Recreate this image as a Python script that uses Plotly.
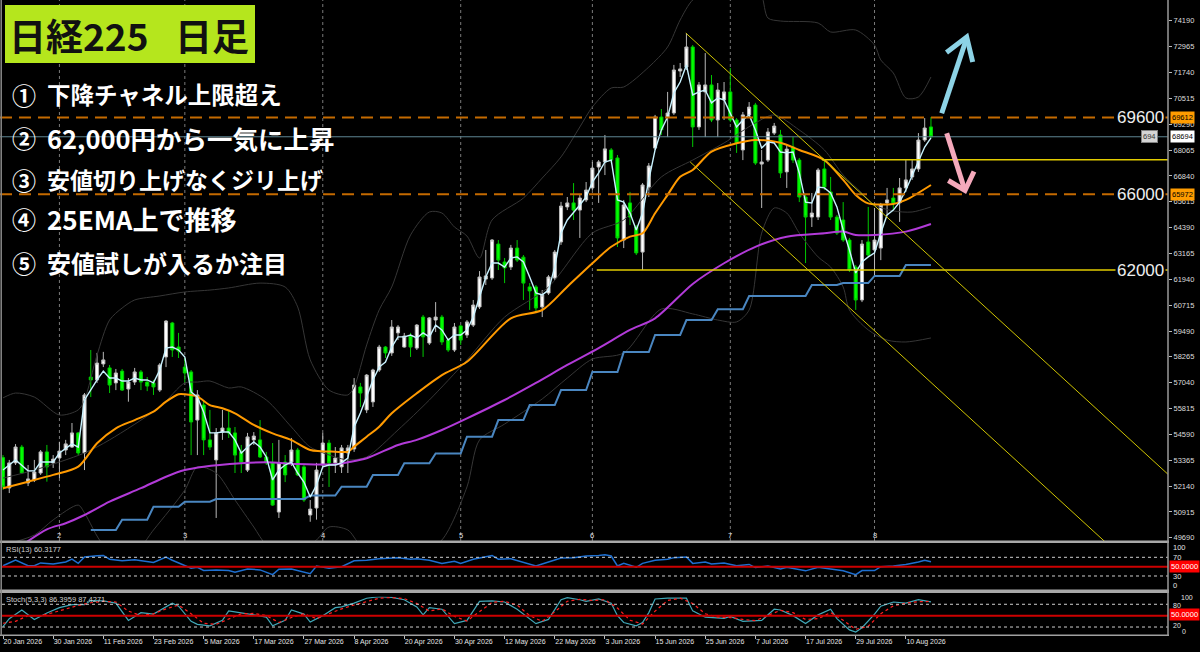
import plotly.graph_objects as go

# ---------------- data ----------------
opens = [53490,52050,53240,53990,52290,52430,52760,53760,53240,53470,
         53850,53990,54660,53710,57310,57170,57930,57740,57030,57590,
         56740,57070,57550,57070,57030,56690,58260,59870,58730,57780,
         57550,55270,55980,54330,53380,54700,54890,54660,53760,52900,
         54330,54330,53520,53240,50910,53280,53280,53850,53050,50770,
         51100,53140,54180,53240,53050,53710,53900,56840,55750,56130,
         57640,58730,58450,59400,58730,59250,58680,60150,58920,60010,
         60150,59060,58590,59730,59300,59770,60630,61950,62000,63610,
         62760,62520,63420,62990,61580,61580,60630,61290,62000,63710,
         65370,65560,65220,65700,66270,67260,67500,68070,67690,63800,
         65560,64420,63230,66310,68160,69630,69630,69820,71810,72000,
         72950,69160,70820,71150,69490,70440,70820,69490,68070,69730,
         70200,67400,67590,68870,68780,67030,68210,67590,65840,64890,
         64890,67170,66080,64890,64750,63800,62520,60960,63710,63330,
         63420,65560,65790,65560,66270,66790,67170,68540,69160]
highs = [53610,53380,54130,54090,53140,53380,53850,54090,53610,54240,
         54330,55130,54700,56550,58590,58450,58500,57880,57690,57690,
         57260,57740,57640,57310,57170,57970,60010,59920,59400,58210,
         57640,56690,56220,55750,54890,55750,55750,54940,54090,54660,
         54700,55270,53760,54180,54330,53610,54420,53950,53140,51480,
         53240,54660,54330,53990,54090,54090,57260,57030,57450,57700,
         58830,58780,60010,59770,59400,59400,59820,60250,60150,60860,
         60250,59160,59870,59770,60010,60960,62330,63330,63850,63800,
         62950,63570,63800,63090,61760,61670,61430,62140,63330,65610,
         65840,66500,65940,66550,67500,67590,68780,68160,67830,65700,
         66080,64510,66500,67450,69730,70010,70820,72100,72190,73610,
         73040,71290,72660,71620,71240,71290,71950,69580,69870,70340,
         70300,68070,69110,69350,69020,68300,68680,67690,65940,66030,
         67210,67590,66790,64990,65600,63900,62620,63800,65370,65320,
         65560,66270,66270,66740,67590,67590,68870,69580,69630]
lows = [51960,51810,53140,52710,52140,52330,52670,52350,53000,52520,
        53610,53950,53610,52900,56360,57030,57780,56550,56690,56650,
        56140,56930,56690,56640,56460,56600,57780,58260,58210,57030,
        53610,53610,53610,53850,50630,54330,54420,52760,52760,52810,
        54090,53470,53140,51200,50630,52330,53090,52620,51390,50450,
        50550,53050,52100,52760,52760,52760,53760,55890,55600,55890,
        57550,58210,58310,59060,58700,58260,58590,58260,58830,59440,
        58830,58500,58500,58830,59160,59680,60530,61670,61910,62380,
        61760,62380,62760,60960,60490,60340,60150,61200,61910,63570,
        65220,64750,63900,65600,66170,65560,66880,67450,63470,63420,
        64510,63090,62380,65840,68070,68780,68680,69730,71530,71860,
        68210,69020,68680,69390,68680,69490,69390,67930,67590,69580,
        67360,65320,67500,68780,66740,66270,67450,65600,62710,64420,
        64750,66170,64750,64040,63710,62290,60490,60860,63040,62140,
        62850,64990,65220,64660,66080,66650,67030,68450,68640]
closes = [52110,53240,53990,52760,52480,52810,53760,53050,53420,53800,
          54140,54660,53710,56460,57170,57970,58120,56930,57500,56690,
          57070,57550,57070,56880,56840,57880,59960,58590,58540,57500,
          55180,56460,54330,53990,54660,54890,54660,53610,53280,54470,
          54510,53520,53240,51240,53240,52670,53850,52670,51480,51050,
          52900,54180,53240,53470,53950,53950,56930,56550,57400,57640,
          58730,58450,59680,59680,59250,58730,59770,59210,60110,60150,
          58970,58590,59680,59060,59920,60720,62050,62100,63800,62850,
          62480,63420,62850,61760,61390,60580,61200,62050,63230,65410,
          65560,65220,65790,66170,67210,67500,68120,67590,63900,65460,
          64890,63190,66410,67310,69630,69020,69820,71860,71910,72950,
          69160,71150,71150,69490,70910,70820,69490,68400,69730,70100,
          67450,67500,68920,69200,66980,68110,67590,65840,64890,65080,
          67120,66310,64890,64130,63800,62380,60960,63610,63090,63800,
          65460,65700,65560,66270,66650,67170,68540,69110,68694]

# short moving average (light cyan)
ma_fast_x = [0,2,4,5,6,8,9,11,12,13] + list(range(15, 149))
ma_fast_y = [52900,53380,52860,52860,53280,53280,53710,54140,53990,56220,
             57170,57590,57260,57260,57120,57120,57260,57170,57170,57030,
             57640,58680,58730,58590,58260,56600,56360,55650,54660,54660,
             54700,54700,54330,53710,53990,54230,53990,53520,52430,52900,
             53140,53280,52760,52330,51620,52190,53050,53140,53140,53240,
             53470,54940,55600,56360,57170,57780,58020,58730,59210,59210,
             59300,59160,59400,59210,59770,59540,59060,59300,59300,59540,
             60150,61100,62050,62710,62710,62520,62950,63000,62760,62050,
             61290,61200,61430,62520,64130,64750,65080,65460,65840,66550,
             66980,67500,67590,65700,65600,65080,64280,65080,66650,68070,
             69020,69630,70770,71290,72100,70680,70820,70910,70300,70530,
             70440,69820,69160,69490,69730,69020,68160,68450,68400,67970,
             67930,67970,66980,65600,65560,66310,66270,66030,65370,64280,
             63330,62240,62760,63000,63190,64130,64990,65220,65600,66170,
             66880,67590,68210,68640]

# 25 EMA (orange)
ema25_x = [0,4,8,12,15,18,21,24,26,28,29,31,33,35,37,40,43,46,49,53,
           55,56,58,60,62,66,70,74,81,86,90,94,97,100,102,104,106,108,110,113,
           117,120,124,127,131,134,136,138,142,144,148]
ema25_y = [52040,52350,52670,53060,54170,54880,55270,55670,56140,56490,
           56490,56380,55980,55830,55590,55040,54640,54320,53850,53770,
           53770,54010,54480,54955,55590,56540,57400,58030,60090,60485,
           61590,62700,63480,63960,64120,65070,65940,66800,67120,67990,
           68385,68540,68410,68070,67590,66650,65940,65540,65510,65700,66410]

# long moving average (purple)
ma_long_x = [0,7,10,13,17,22,26,29,32,38,42,47,53,55,58,63,66,70,74,80,
             85,90,95,100,104,110,115,120,125,131,134,136,139,144,148]
ma_long_y = [48700,50090,50380,50770,51400,52040,52585,52900,53060,53220,
             53270,53190,53170,53270,53460,54090,54330,54800,55350,56220,
             57030,57880,58680,59540,60090,61720,62700,63480,63960,64120,
             64200,64040,64040,64200,64560]

# weekly step line (steel blue): first bar, last bar, value
step_start = [14,19,24,29,34,49,54,59,64,69,74,79,84,89,94,99,104,109,114,119,129,134,139,144]
step_end   = [18,23,28,33,48,53,58,63,68,73,78,83,88,93,98,103,108,113,118,128,133,138,143,148]
step_val   = [50060,50550,51160,51400,51530,51690,52110,52670,53220,53690,54480,55270,
              55980,56690,57550,58490,59300,60010,60520,61150,61670,61760,62100,62620]

# Bollinger bands (dark grey)
bb_up_x = [0,2,5,9,12,13,15,17,19,21,25,29,33,36,41,45,47,49,52,55,
           56,58,60,62,65,68,70,72,74,76,78,83,86,89,92,94,97,99,103,106,
           108,110,113,116,119,121,122,124,130,132,136,139,140,142,144,146,148]
bb_up_y = [56320,56550,56360,55510,55750,56220,58350,60010,60580,60960,
           61150,61340,61430,61530,61760,61575,60630,58120,56690,56460,
           56840,58830,60490,61575,64040,65130,65080,64420,63990,62950,
           64750,65790,66740,67740,69160,70105,71005,71053,72000,72950,
           74230,75176,75650,76300,76300,75400,74323,74180,74086,73660,
           73754,73043,72332,71716,70532,70580,71527]
bb_mid_x = [0,5,13,17,25,29,31,33,36,38,42,46,49,53,55,58,63,68,74,80,
            87,94,99,105,110,115,120,123,127,131,134,137,139,142,145,148]
bb_mid_y = [52520,52900,53710,54330,55890,57030,57070,57120,56790,56840,
            56220,54940,53990,53520,53380,53520,54800,56220,58120,60150,
            61575,64130,64750,66790,67590,68400,69350,69730,69015,68070,
            66880,66030,65460,65180,65130,65370]
bb_lo_x = [0,5,8,12,13,16,20,24,29,31,34,37,40,42,46,50,52,55,57,62,
           66,70,74,76,80,86,90,94,99,105,110,114,117,119,121,123,125,127,130,132,
           134,135,138,141,144,148]
bb_lo_y = [49350,49820,50540,51240,50870,49350,48640,50060,51955,53045,
           52760,51480,50200,49350,48640,49585,50200,50060,49350,48640,
           48870,49585,52100,54325,55080,56270,57260,58160,58450,60530,
           60300,60010,59920,60485,64130,65320,65080,64130,63000,62520,
           61575,60485,59540,59060,58970,59160]

# RSI(13)
rsi_x = [0,2,4,5,6,8,10,11,12,13,15,16,17,19,21,24,26,27,30,31,
         32,34,36,37,39,41,43,44,46,49,50,52,54,56,58,60,63,65,66,68,
         70,72,73,75,78,79,81,83,85,87,89,91,93,95,96,97,98,99,101,102,
         104,106,107,109,110,112,113,115,117,119,120,122,124,125,127,128,130,132,134,136,
         137,139,140,142,144,146,147,148]
rsi_y = [52,64,52,52,58,55.5,60,66,57,70.7,73.5,74,66,62.4,65,59,70.7,63.8,46.5,48.6,
         41.7,43,41.7,38,45,43,32.8,44.5,45,35,51.4,46.5,50,62.4,63.8,67,69,66,67,63.8,
         57,61.7,57,66,74,66,67,60,51.4,60,68.6,69.3,72.8,74,75.5,72.8,51.4,57,48.6,57,
         63.8,66,69.3,70.7,57,60,55.5,57.6,52,54.8,48,51.4,45,48.6,43.8,41,48.6,44.5,41,32.8,
         41.7,41.7,50,51.4,54.8,60,63.8,60.3]

# Stochastic(5,3,3)
stk_x = [0,1,3,5,7,9,11,13,14,16,18,20,22,24,27,28,30,31,33,35,
         36,38,40,42,43,45,46,48,49,51,53,54,56,58,60,62,64,66,67,68,
         70,72,74,76,78,80,82,85,87,89,90,92,93,95,97,98,99,101,102,103,
         104,106,109,110,112,115,116,118,120,121,123,124,126,128,130,132,133,135,136,137,
         139,140,142,144,146,147,148]
stk_y = [21,42,65,40,57,71,79,79,90,89,83,37.5,58,54,83,75,35,27,23,37.5,
         62.5,58,52,46,23,37.5,65,54,33,50,71,73,83,96,100,98,92,73,52,71,
         67,29,37.5,87.5,89,86,67,29,40,92,97.5,92,87.5,94,83,50,32,23,32,58,
         94,96,96,62.5,46,43,48,35,37.5,37.5,67,65,50,29,52,67,42,12.5,6.7,18,
         54,75,86,83,92,90,86.4]
std_x = list(range(0, 149, 2))
std_y = [30,35,50,50,58,68,77,84,88,86,62,50,55,68,78,55,30,27,42,55,
         56,50,32,45,55,42,55,68,78,88,96,98,95,82,62,68,48,36,60,85,
         88,78,50,35,60,88,93,90,92,70,38,28,62,90,96,82,55,46,45,40,
         37,50,64,58,40,42,58,38,14,22,55,76,83,87,87.4]

# axis ticks / labels
price_ticks = [49690,50915,52140,53365,54590,55815,57040,58265,59490,60715,
               61940,63165,64390,65615,66840,68065,69290,70515,71740,72965,74190]
date_tick_bars = [0,8,16,24,32,40,48,56,64,72,80,88,96,104,112,120,128,136,144]
date_tick_labels = ["20 Jan 2026","30 Jan 2026","11 Feb 2026","23 Feb 2026","5 Mar 2026",
                    "17 Mar 2026","27 Mar 2026","8 Apr 2026","20 Apr 2026","30 Apr 2026",
                    "12 May 2026","22 May 2026","3 Jun 2026","15 Jun 2026","25 Jun 2026",
                    "7 Jul 2026","17 Jul 2026","29 Jul 2026","10 Aug 2026"]
month_bars = [9,29,51,73,94,116,139]
month_labels = ["2","3","4","5","6","7","8"]

# drawn objects
dash_levels = [69612, 65972]
dash_level_tags = ["69612", "65972"]
level_texts = ["69600", "66000", "62000"]
level_text_prices = [69612, 65972, 62380]
last_price = 68694
yellow_levels = [67600, 62380]
yellow_starts = [130.6, 94.7]
chan_upper_x = [108.9, 185.8]
chan_upper_y = [73610, 52700]
chan_lower_x = [109.6, 185.8]
chan_lower_y = [67500, 46770]

title_parts = ["日経225", "日足"]
note_marks = ["①", "②", "③", "④", "⑤"]
note_texts = ["下降チャネル上限超え", "62,000円から一気に上昇", "安値切り上げなくジリ上げ",
              "25EMA上で推移", "安値試しが入るか注目"]

# ---------------- layout geometry ----------------
W, H = 1200, 652
PLOT_R = 1168.0
X0_PX, BAR_PX = 3.0, 6.27
MAIN_BOT = 541.0
RSI_TOP, RSI_BOT = 543.3, 590.0
STO_TOP, STO_BOT = 596.7, 634.6
Y_RANGE = [49538, 75176]
X_RANGE = [(0 - X0_PX) / BAR_PX, (PLOT_R - X0_PX) / BAR_PX]


def xp(px):
    return px / W


def yp(py):
    return 1 - py / H


LBL = "Liberation Sans"
JP = "Noto Sans CJK JP"

fig = go.Figure()

n = len(opens)
fig.add_trace(go.Candlestick(
    x=list(range(n)), open=opens, high=highs, low=lows, close=closes,
    increasing=dict(line=dict(color="#b8b8b8", width=1), fillcolor="#ffffff"),
    decreasing=dict(line=dict(color="#00c800", width=1), fillcolor="#00ff00"),
    whiskerwidth=0, xaxis="x", yaxis="y", hoverinfo="skip", showlegend=False))


def line(x, y, color, width, shape="linear", xa="x", ya="y", dash="solid"):
    fig.add_trace(go.Scatter(x=x, y=y, mode="lines", xaxis=xa, yaxis=ya,
                             line=dict(color=color, width=width, shape=shape, dash=dash,
                                       smoothing=0.8 if shape == "spline" else None),
                             hoverinfo="skip", showlegend=False))


line(bb_up_x, bb_up_y, "#363636", 1, "spline")
line(bb_mid_x, bb_mid_y, "#363636", 1, "spline")
line(bb_lo_x, bb_lo_y, "#363636", 1, "spline")

sx, sy = [], []
for s, e, v in zip(step_start, step_end, step_val):
    sx += [s, e]
    sy += [v, v]
line(sx, sy, "#4a86c0", 2)
line(ma_long_x, ma_long_y, "#b23ad8", 2, "spline")
line(ema25_x, ema25_y, "#ff9a00", 2, "spline")
line(ma_fast_x, ma_fast_y, "#c8f2ff", 1.4)

line(rsi_x, rsi_y, "#1e6fd0", 1.5, xa="x2", ya="y2")
line(stk_x, stk_y, "#40a8b8", 1.2, xa="x3", ya="y3")
line(std_x, std_y, "#ff2020", 1.2, xa="x3", ya="y3", dash="dot")

shapes = []
for b in month_bars:
    shapes.append(dict(type="line", xref="x", yref="paper", x0=b, x1=b, y0=yp(MAIN_BOT), y1=1,
                       line=dict(color="#7a7a7a", width=1, dash="dot"), layer="below"))
for p in dash_levels:
    shapes.append(dict(type="line", xref="paper", yref="y", x0=0, x1=xp(PLOT_R), y0=p, y1=p,
                       line=dict(color="#c46a00", width=2, dash="12px,7px")))
shapes.append(dict(type="line", xref="paper", yref="y", x0=0, x1=xp(PLOT_R), y0=last_price, y1=last_price,
                   line=dict(color="#5e8694", width=1)))
for p, s in zip(yellow_levels, yellow_starts):
    shapes.append(dict(type="line", xref="x", yref="y", x0=s, x1=X_RANGE[1], y0=p, y1=p,
                       line=dict(color="#e2cc00", width=1.5)))
for cx, cy in ((chan_upper_x, chan_upper_y), (chan_lower_x, chan_lower_y)):
    shapes.append(dict(type="line", xref="x", yref="y", x0=cx[0], x1=cx[1], y0=cy[0], y1=cy[1],
                       line=dict(color="#cfc400", width=1)))
for ya, lv in (("y2", (70, 30)), ("y3", (80, 20))):
    for v in lv:
        shapes.append(dict(type="line", xref="paper", yref=ya, x0=xp(2), x1=xp(PLOT_R), y0=v, y1=v,
                           line=dict(color="#cfcfcf", width=1, dash="3px,3px")))
    shapes.append(dict(type="line", xref="paper", yref=ya, x0=xp(2), x1=xp(PLOT_R), y0=50, y1=50,
                       line=dict(color="#cc0000", width=2)))


def prect(x0, y0, x1, y1, color):
    shapes.append(dict(type="rect", xref="paper", yref="paper", x0=xp(x0), x1=xp(x1),
                       y0=yp(y1), y1=yp(y0), fillcolor=color, line=dict(width=0), layer="above"))


def pline(x0, y0, x1, y1, color, width):
    shapes.append(dict(type="line", xref="paper", yref="paper", x0=xp(x0), x1=xp(x1),
                       y0=yp(y0), y1=yp(y1), line=dict(color=color, width=width)))


prect(0, 540.5, PLOT_R + 1, 543.0, "#a8a8a8")
prect(0, 589.6, PLOT_R + 1, 593.0, "#a8a8a8")
pline(0, 635.3, PLOT_R + 1, 635.3, "#a0a0a0", 1.5)
pline(PLOT_R, 0, PLOT_R, 635.3, "#9a9a9a", 1.5)
pline(1.2, 0, 1.2, 635.3, "#8a8a8a", 1.5)
prect(5, 5, 255, 63, "#b5e61d")


def arrow(pts_shaft, pts_head, color):
    def path(pts):
        return "M " + " L ".join(f"{xp(a):.5f},{yp(b):.5f}" for a, b in pts)
    for pts in (pts_shaft, pts_head):
        shapes.append(dict(type="path", xref="paper", yref="paper", path=path(pts),
                           line=dict(color=color, width=5)))


arrow([(941.7, 113.3), (966.7, 38.0)], [(946.5, 52.5), (966.7, 37.0), (972.7, 62.0)], "#8dd3e6")
arrow([(946.7, 133.3), (964.5, 189.0)], [(948.3, 180.5), (965.0, 190.5), (974.0, 171.5)], "#f5a9bb")

ann = []


def note(text, x, y, size, color, family=LBL, xanchor="left", bg=None, xref="paper", yref="paper",
         border=None):
    d = dict(text=text, x=x, y=y, xref=xref, yref=yref, xanchor=xanchor, yanchor="middle",
             showarrow=False, font=dict(family=family, size=size, color=color))
    if bg:
        d["bgcolor"] = bg
        d["borderpad"] = 1
    if border:
        d["bordercolor"] = border
        d["borderwidth"] = 1
    ann.append(d)


note("<b>" + title_parts[0] + "</b>", xp(7), yp(35), 37, "#111111", JP)
note("<b>" + title_parts[1] + "</b>", xp(173), yp(35), 37, "#111111", JP)
note_sizes = [23.5, 25.5, 23, 26, 24]
for m, t, cy, sz in zip(note_marks, note_texts, [94, 137, 179, 219, 262], note_sizes):
    note("<b>" + m + "</b>", xp(10), yp(cy), 24, "#ffffff", JP)
    note("<b>" + t + "</b>", xp(45), yp(cy), sz, "#ffffff", JP)

for t, p in zip(level_texts, level_text_prices):
    note(t, xp(1166), p, 17, "#eeeeee", LBL, xanchor="right", bg="#000000", yref="y")
for t, p in zip(dash_level_tags, dash_levels):
    note(t, xp(1170), p, 7.5, "#000000", LBL, bg="#ff9c00", yref="y")
note(f"{last_price}", xp(1170), last_price, 7.5, "#000000", LBL, bg="#ffffff", yref="y")
note(f"{last_price}"[-3:], xp(1149), last_price, 7.5, "#333333", LBL, xanchor="center",
     bg="#d4d4d4", yref="y", border="#808080")

for b, t in zip(month_bars, month_labels):
    note(t, b, yp(535), 7.5, "#e0e0e0", LBL, xanchor="center", xref="x")

note("RSI(13) 60.3177", xp(4), yp(549), 7.5, "#d0d0d0")
note("Stoch(5,3,3) 86.3959 87.4271", xp(4), yp(599.5), 7.5, "#d0d0d0")

for t, py in (("100", 547), ("70", 557.3), ("30", 576), ("0", 585.7)):
    note(t, xp(1171), yp(py), 7.5, "#e0e0e0")
for t, py, px in (("100", 597.0, 1179), ("80", 605.5, 1171), ("20", 625.8, 1171), ("0", 631.0, 1180)):
    note(t, xp(px), yp(py), 7, "#e0e0e0")
note("50.0000", xp(1169), yp(566.7), 7.5, "#ffffff", bg="#ff0000")
note("50.0000", xp(1169), yp(614.3), 7.5, "#ffffff", bg="#ff0000")

dom_x = [0, xp(PLOT_R)]
fig.update_layout(
    width=W, height=H, margin=dict(l=0, r=0, t=0, b=0),
    paper_bgcolor="#000000", plot_bgcolor="rgba(0,0,0,0)", showlegend=False,
    shapes=shapes, annotations=ann,
    xaxis=dict(domain=dom_x, range=X_RANGE, anchor="y", showticklabels=False, ticks="",
               showgrid=False, zeroline=False, rangeslider=dict(visible=False)),
    xaxis2=dict(domain=dom_x, matches="x", anchor="y2", showticklabels=False, ticks="",
                showgrid=False, zeroline=False),
    xaxis3=dict(domain=dom_x, matches="x", anchor="y3", showgrid=False, zeroline=False,
                tickmode="array", tickvals=date_tick_bars, ticktext=date_tick_labels,
                ticks="outside", ticklen=3, tickcolor="#bbbbbb",
                ticklabelposition="outside right",
                tickfont=dict(family=LBL, size=7, color="#e6e6e6")),
    yaxis=dict(domain=[yp(MAIN_BOT), 1], range=Y_RANGE, anchor="x", side="right",
               tickmode="array", tickvals=price_ticks, ticktext=[str(v) for v in price_ticks],
               ticks="outside", ticklen=3, tickcolor="#bbbbbb", showgrid=False, zeroline=False,
               tickfont=dict(family=LBL, size=7.5, color="#dcdcdc")),
    yaxis2=dict(domain=[yp(RSI_BOT), yp(RSI_TOP)], range=[0, 100], anchor="x2",
                showticklabels=False, ticks="", showgrid=False, zeroline=False),
    yaxis3=dict(domain=[yp(STO_BOT), yp(STO_TOP)], range=[0, 100], anchor="x3",
                showticklabels=False, ticks="", showgrid=False, zeroline=False),
)

fig.write_html("out.html", config={"displayModeBar": False},
               post_script="document.body.style.margin='0';document.body.style.background='#000';")
